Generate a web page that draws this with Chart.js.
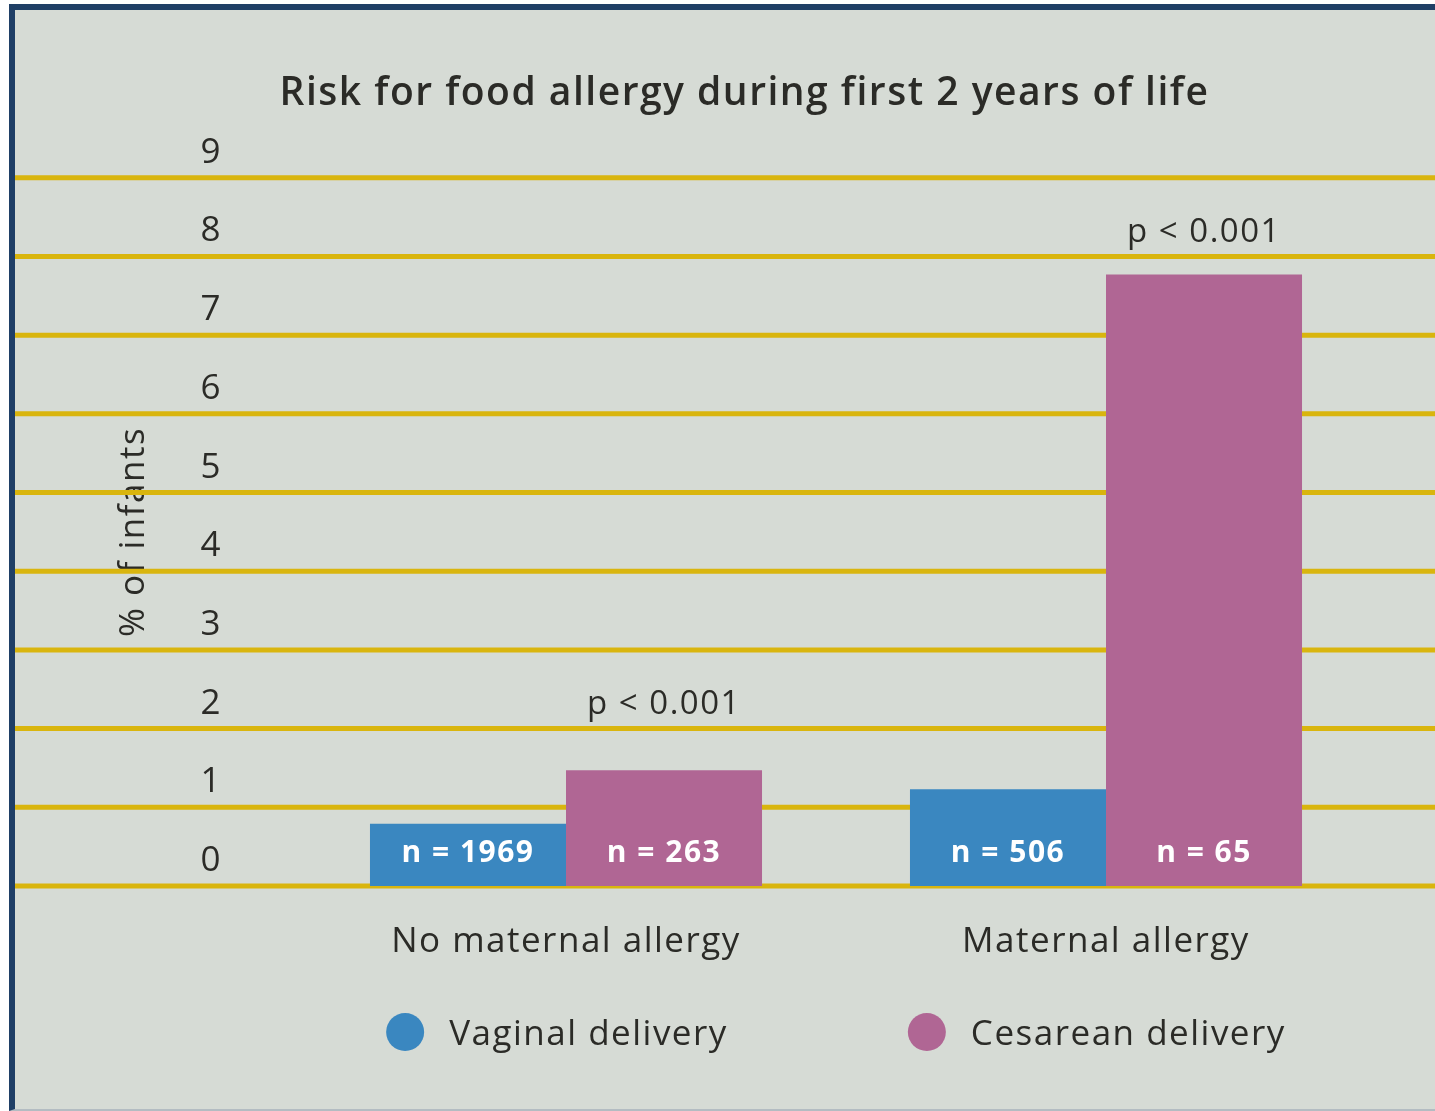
<!DOCTYPE html>
<html lang="en">
<head>
  <meta charset="UTF-8">
  <title>Risk for food allergy during first 2 years of life</title>
  <script src="https://cdn.jsdelivr.net/npm/chart.js"></script>
  <style>
    body {
      margin: 0;
      background: #fff;
    }
    .frame {
      position: absolute;
      left: 9px;
      top: 4px;
      width: 1420px;
      height: 1099px;
      border-left: 6px solid #1f3f66;
      border-top: 6px solid #1f3f66;
      border-bottom: 2px solid #b3bcc2;
      background: #d6dbd5;
    }
  </style>
</head>
<body>
  <div class="frame">
    <canvas id="allergyChart"></canvas>
  </div>

  <script>
    // ---- data ----
    const categories = ['No maternal allergy', 'Maternal allergy'];
    const vaginal = [0.79, 1.23];          // % of infants
    const cesarean = [1.47, 7.77];
    const vaginalN = ['n = 1969', 'n = 506'];
    const cesareanN = ['n = 263', 'n = 65'];
    const pValues = ['p < 0.001', 'p < 0.001'];
    const yTicks = [0, 1, 2, 3, 4, 5, 6, 7, 8, 9];

    const textColor = '#2b2b27';
    const fontFamily = '"Open Sans", Lato, sans-serif';

    // the original face is a bit wider than Open Sans, so open up the tracking
    const tracking = {
      id: 'tracking',
      beforeUpdate(chart) { chart.ctx.letterSpacing = '1.5px'; },
      beforeDraw(chart) { chart.ctx.letterSpacing = '1.5px'; }
    };

    // gold horizontal rules, full width, behind the bars
    const goldLines = {
      id: 'goldLines',
      beforeDatasetsDraw(chart) {
        const { ctx } = chart;
        const y = chart.scales.y;
        ctx.save();
        ctx.strokeStyle = '#d9b50e';
        ctx.lineWidth = 5;
        yTicks.forEach(v => {
          const py = y.getPixelForValue(v);
          ctx.beginPath();
          ctx.moveTo(0, py);
          ctx.lineTo(chart.width, py);
          ctx.stroke();
        });
        ctx.restore();
      }
    };

    // n = ... inside the bars, p-values above the cesarean bars
    const barLabels = {
      id: 'barLabels',
      afterDatasetsDraw(chart) {
        const { ctx } = chart;
        const y = chart.scales.y;
        const nTexts = [vaginalN, cesareanN];
        ctx.save();
        ctx.textAlign = 'center';
        ctx.textBaseline = 'middle';
        ctx.fillStyle = '#fff';
        ctx.font = 'bold 30px ' + fontFamily;
        chart.data.datasets.forEach((ds, di) => {
          chart.getDatasetMeta(di).data.forEach((bar, i) => {
            ctx.fillText(nTexts[di][i], bar.x, bar.base - 33);
          });
        });
        ctx.fillStyle = textColor;
        ctx.font = '33px ' + fontFamily;
        chart.getDatasetMeta(1).data.forEach((bar, i) => {
          const py = y.getPixelForValue(Math.ceil(cesarean[i])) - 24;
          ctx.fillText(pValues[i], bar.x, py);
        });
        ctx.restore();
      }
    };

    // legend drawn by hand so the two items sit far apart like the original
    const dotLegend = {
      id: 'dotLegend',
      afterDraw(chart) {
        const { ctx, chartArea } = chart;
        const r = 19, textGap = 25, itemGap = 180;
        const py = chart.height - 77;
        ctx.save();
        ctx.font = '35px ' + fontFamily;
        ctx.textBaseline = 'middle';
        const items = chart.data.datasets.map(ds => ({
          label: ds.label,
          color: ds.backgroundColor,
          w: ctx.measureText(ds.label).width
        }));
        const total = items.reduce((s, it) => s + 2 * r + textGap + it.w, 0) + itemGap;
        let x = (chartArea.left + chartArea.right) / 2 - total / 2;
        items.forEach(it => {
          ctx.fillStyle = it.color;
          ctx.beginPath();
          ctx.arc(x + r, py, r, 0, Math.PI * 2);
          ctx.fill();
          ctx.fillStyle = textColor;
          ctx.fillText(it.label, x + 2 * r + textGap, py + 3);
          x += 2 * r + textGap + it.w + itemGap;
        });
        ctx.restore();
      }
    };

    const ctx = document.getElementById('allergyChart').getContext('2d');
    new Chart(ctx, {
      type: 'bar',
      data: {
        labels: categories,
        datasets: [
          {
            label: 'Vaginal delivery',
            data: vaginal,
            backgroundColor: '#3a87c0',
            categoryPercentage: 0.726,
            barPercentage: 1.0
          },
          {
            label: 'Cesarean delivery',
            data: cesarean,
            backgroundColor: '#b06694',
            categoryPercentage: 0.726,
            barPercentage: 1.0
          }
        ]
      },
      options: {
        responsive: true,
        maintainAspectRatio: false,
        animation: false,
        layout: {
          padding: { left: 98, right: 59, top: 0, bottom: 111 }
        },
        scales: {
          x: {
            grid: { display: false, drawTicks: false },
            border: { display: false },
            ticks: {
              color: textColor,
              padding: 35,
              font: { family: fontFamily, size: 35 }
            }
          },
          y: {
            min: 0,
            max: 9,
            afterFit(scale) { scale.width = 183; },
            grid: { display: false, drawTicks: false },
            border: { display: false },
            ticks: {
              stepSize: 1,
              color: textColor,
              padding: 74,
              labelOffset: -25,
              font: { family: fontFamily, size: 35 }
            },
            title: {
              display: true,
              text: '% of infants',
              color: textColor,
              padding: { top: 0, bottom: 0 },
              font: { family: fontFamily, size: 35 }
            }
          }
        },
        plugins: {
          legend: { display: false },
          tooltip: { enabled: false },
          title: {
            display: true,
            text: 'Risk for food allergy during first 2 years of life',
            color: textColor,
            padding: { top: 60, bottom: 61 },
            font: { family: fontFamily, size: 39, weight: '600' }
          }
        }
      },
      plugins: [tracking, goldLines, barLabels, dotLegend]
    });
  </script>
</body>
</html>
